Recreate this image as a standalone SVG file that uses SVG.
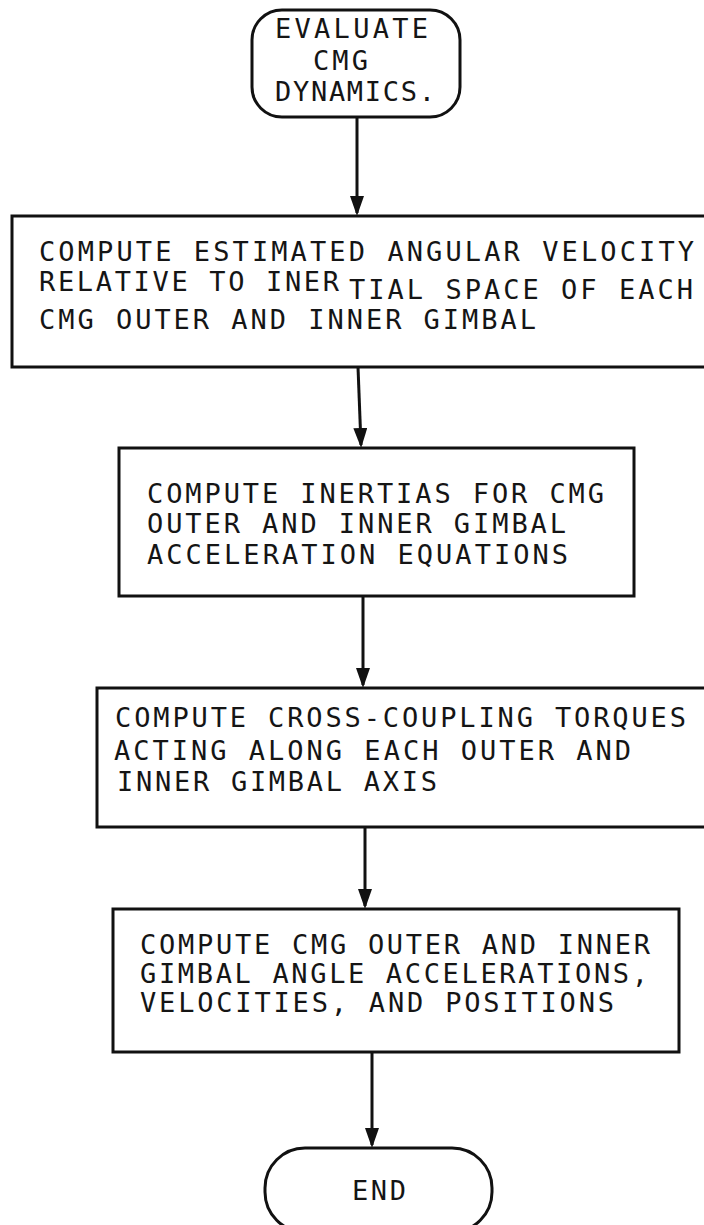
<svg xmlns="http://www.w3.org/2000/svg" width="704" height="1225" viewBox="0 0 704 1225">
  <style>
    .box { fill: #ffffff; stroke: #111111; stroke-width: 3; }
    .t { font-family: "DejaVu Sans Mono", "Liberation Mono", monospace; font-size: 27px; fill: #151515; }
    .c { stroke: #111111; stroke-width: 3; fill: none; }
  </style>
  <defs>
    <marker id="ah" viewBox="0 0 20 14" refX="17" refY="7" markerWidth="20" markerHeight="14" markerUnits="userSpaceOnUse" orient="auto">
      <path d="M0,0 L20,7 L0,14 Z" fill="#111111"/>
    </marker>
  </defs>
  <rect width="704" height="1225" fill="#ffffff"/>

  <g id="connectors">
    <path class="c" d="M357,117 L357,213" marker-end="url(#ah)"/>
    <path class="c" d="M358,367 L361,445" marker-end="url(#ah)"/>
    <path class="c" d="M363,596 L363,685" marker-end="url(#ah)"/>
    <path class="c" d="M365,827 L365,906" marker-end="url(#ah)"/>
    <path class="c" d="M372,1052 L372,1145" marker-end="url(#ah)"/>
  </g>

  <g id="start">
    <rect class="box" x="252" y="10" width="208" height="107" rx="30" ry="30"/>
    <text class="t" x="275" y="38" textLength="153" lengthAdjust="spacing">EVALUATE</text>
    <text class="t" x="313" y="70" textLength="55" lengthAdjust="spacing">CMG</text>
    <text class="t" x="275" y="101" textLength="160" lengthAdjust="spacing">DYNAMICS.</text>
  </g>

  <g id="box1">
    <rect class="box" x="12" y="216" width="700" height="151"/>
    <text class="t" x="39" y="261" textLength="655" lengthAdjust="spacing">COMPUTE ESTIMATED ANGULAR VELOCITY</text>
    <text class="t" x="39" y="291" textLength="300" lengthAdjust="spacing">RELATIVE TO INER</text>
    <text class="t" x="349" y="299" textLength="344" lengthAdjust="spacing">TIAL SPACE OF EACH</text>
    <text class="t" x="39" y="329" textLength="497" lengthAdjust="spacing">CMG OUTER AND INNER GIMBAL</text>
  </g>

  <g id="box2">
    <rect class="box" x="119" y="448" width="515" height="148"/>
    <text class="t" x="147" y="503" textLength="457" lengthAdjust="spacing">COMPUTE INERTIAS FOR CMG</text>
    <text class="t" x="147" y="533" textLength="419" lengthAdjust="spacing">OUTER AND INNER GIMBAL</text>
    <text class="t" x="147" y="564" textLength="421" lengthAdjust="spacing">ACCELERATION EQUATIONS</text>
  </g>

  <g id="box3">
    <rect class="box" x="97" y="688" width="615" height="139"/>
    <text class="t" x="115" y="727" textLength="571" lengthAdjust="spacing">COMPUTE CROSS-COUPLING TORQUES</text>
    <text class="t" x="114" y="760" textLength="517" lengthAdjust="spacing">ACTING ALONG EACH OUTER AND</text>
    <text class="t" x="117" y="791" textLength="320" lengthAdjust="spacing">INNER GIMBAL AXIS</text>
  </g>

  <g id="box4">
    <rect class="box" x="113" y="909" width="566" height="143"/>
    <text class="t" x="140" y="954" textLength="510" lengthAdjust="spacing">COMPUTE CMG OUTER AND INNER</text>
    <text class="t" x="140" y="983" textLength="508" lengthAdjust="spacing">GIMBAL ANGLE ACCELERATIONS,</text>
    <text class="t" x="140" y="1012" textLength="474" lengthAdjust="spacing">VELOCITIES, AND POSITIONS</text>
  </g>

  <g id="end">
    <rect class="box" x="265" y="1148" width="227" height="84" rx="40" ry="40"/>
    <text class="t" x="352" y="1200" textLength="54" lengthAdjust="spacing">END</text>
  </g>
</svg>
